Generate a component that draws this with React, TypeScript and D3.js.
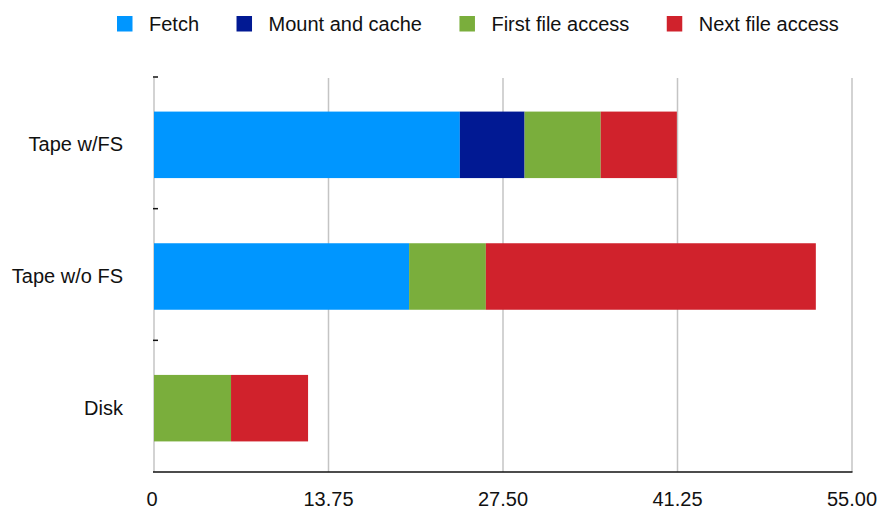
import React from "react";
import * as d3 from "d3";

const categories = ["Tape w/FS", "Tape w/o FS", "Disk"];
const seriesNames = ["Fetch", "Mount and cache", "First file access", "Next file access"];
const fetchValues = [24.1, 20.1, 0];
const mountValues = [5.1, 0, 0];
const firstAccessValues = [6.0, 6.05, 6.07];
const nextAccessValues = [6.0, 26.0, 6.07];
const xTicks = [0, 13.75, 27.5, 41.25, 55];
const xTickLabels = ["0", "13.75", "27.50", "41.25", "55.00"];
const colors = ["#0096ff", "#011993", "#7aae3c", "#d0222c"];

const W = 880;
const H = 509;
const FONT = "'Liberation Sans', Arial, Helvetica, sans-serif";
const FS = 20;

function textWidth(t: string): number {
  if (typeof document === "undefined") return t.length * FS * 0.55;
  const c = document.createElement("canvas");
  const ctx = c.getContext("2d");
  if (!ctx) return t.length * FS * 0.55;
  ctx.font = `${FS}px ${FONT}`;
  return ctx.measureText(t).width;
}

export default function App() {
  const x = d3.scaleLinear().domain([0, 55]).range([154, 852]);
  const y = d3.scaleBand<string>().domain(categories).range([77, 472]);
  const barH = 66.5;
  const barOff = (y.bandwidth() - barH) / 2 + 2;

  const rows = categories.map((c, i) => ({
    cat: c,
    Fetch: fetchValues[i],
    "Mount and cache": mountValues[i],
    "First file access": firstAccessValues[i],
    "Next file access": nextAccessValues[i],
  }));
  const stacked = d3.stack<any>().keys(seriesNames)(rows);

  // legend layout
  const legendItems: { name: string; x: number; color: string }[] = [];
  let lx = 117;
  seriesNames.forEach((n, i) => {
    legendItems.push({ name: n, x: lx, color: colors[i] });
    lx += 32 + textWidth(n) + 37.5;
  });

  const bands = [...categories.map((c) => y(c)!), 472];

  return (
    <svg width={W} height={H} style={{ position: "absolute", left: 0, top: 0, background: "#fff" }} fontFamily={FONT}>
      <rect width={W} height={H} fill="#fff" />
      {/* legend */}
      {legendItems.map((it) => (
        <g key={it.name}>
          <rect x={it.x} y={16} width={15.5} height={15.5} fill={it.color} />
          <text x={it.x + 32} y={30.5} fontSize={FS} fill="#111">
            {it.name}
          </text>
        </g>
      ))}
      {/* gridlines */}
      {xTicks.map((t) => (
        <line key={t} x1={x(t)} x2={x(t)} y1={78} y2={472} stroke="#c4c4c4" strokeWidth={1.5} />
      ))}
      {/* bars */}
      {stacked.map((s, si) =>
        s.map((d, di) =>
          d[1] - d[0] > 0 ? (
            <rect
              key={`${si}-${di}`}
              x={x(d[0])}
              width={x(d[1]) - x(d[0])}
              y={y(categories[di])! + barOff}
              height={barH}
              fill={colors[si]}
            />
          ) : null
        )
      )}
      {/* y ticks */}
      {bands.slice(0, 3).map((b, i) => (
        <line key={i} x1={153} x2={158} y1={b} y2={b} stroke="#111" strokeWidth={1.5} />
      ))}
      {/* baseline */}
      <line x1={153} x2={852.5} y1={472} y2={472} stroke="#111" strokeWidth={1.5} />
      {/* category labels */}
      {categories.map((c) => (
        <text
          key={c}
          x={123}
          y={y(c)! + barOff + barH / 2 + 6.5}
          fontSize={FS}
          textAnchor="end"
          fill="#111"
        >
          {c}
        </text>
      ))}
      {/* x tick labels */}
      {xTicks.map((t, i) => (
        <text key={t} x={x(t) - (i === 0 ? 2 : 0)} y={506} fontSize={FS} textAnchor="middle" fill="#111">
          {xTickLabels[i]}
        </text>
      ))}
    </svg>
  );
}
